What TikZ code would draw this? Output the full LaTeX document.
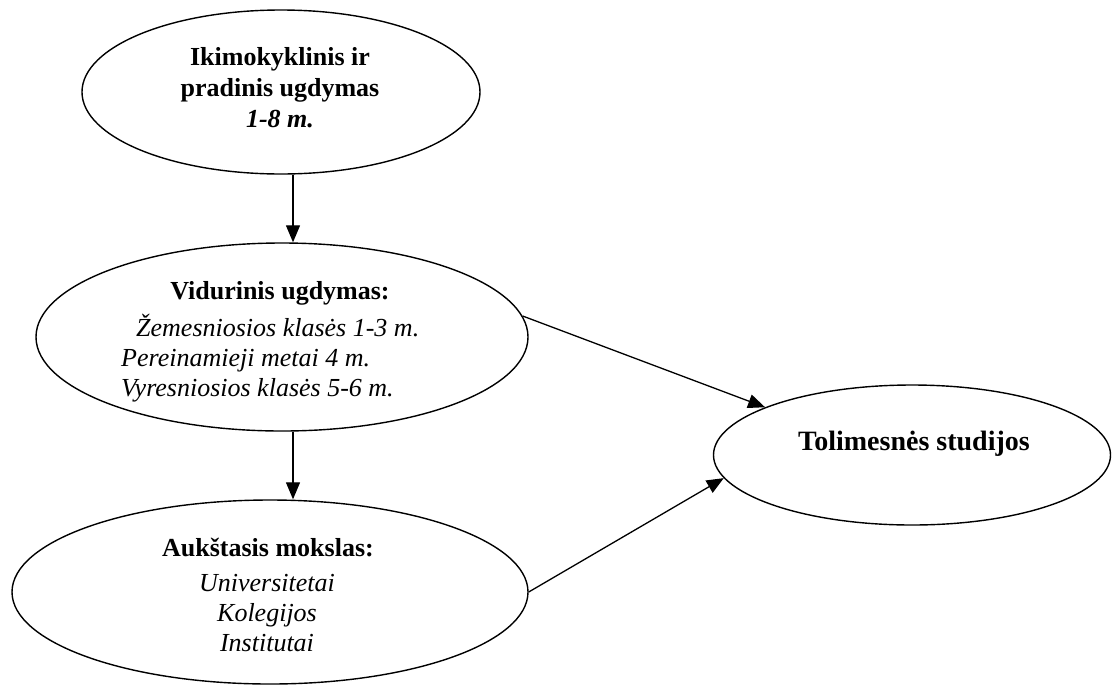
\documentclass[tikz,border=0pt]{standalone}
\usepackage{fontspec}
\setmainfont{Liberation Serif}
\usetikzlibrary{shapes.geometric,arrows.meta}
\begin{document}
\begin{tikzpicture}[x=1pt,y=-1pt,
  oval/.style={draw, ellipse, line width=1.4pt, inner sep=0pt},
  headtext/.style={inner sep=0pt, align=center, font=\bfseries\fontsize{26}{31}\selectfont},
  bodytext/.style={inner sep=0pt, font=\itshape\fontsize{26}{30}\selectfont},
  link/.style={line width=1.3pt, -{Triangle[length=17pt,width=14pt]}}]
\useasboundingbox (0,0) rectangle (1118,686);

% ellipses
\node[oval, minimum width=398pt, minimum height=164pt] (pre)  at (281,92)  {};
\node[oval, minimum width=492pt, minimum height=188pt] (mid)  at (282,337) {};
\node[oval, minimum width=516pt, minimum height=184pt] (high) at (270,592) {};
\node[oval, minimum width=397pt, minimum height=140pt] (fin)  at (912,455) {};

% texts
\node[headtext] (preT) at (280,88) {Ikimokyklinis ir\\pradinis ugdymas\\\textit{1-8 m.}};
\node[headtext] (midT) at (280,293) {Vidurinis ugdymas:};
\node[bodytext, align=left, anchor=west] (midB) at (121,358)
  {\hspace*{15pt}Žemesniosios klasės 1-3 m.\\Pereinamieji metai 4 m.\\Vyresniosios klasės 5-6 m.};
\node[headtext] (highT) at (268,548) {Aukštasis mokslas:};
\node[bodytext, align=center] (highB) at (267,613) {Universitetai\\Kolegijos\\Institutai};
\node[headtext, font=\bfseries\fontsize{28}{31}\selectfont] (finT) at (914,444) {Tolimesnės studijos};

% connectors
\coordinate (axis) at (293,0);
\draw[link] (pre.south -| axis) -- (mid.north -| axis);
\draw[link] (mid.south -| axis) -- (high.north -| axis);
\draw[link] (mid.5.6) -- (fin.162.5);
\draw[link] (high.east) -- (fin.187.6);
\end{tikzpicture}
\end{document}
